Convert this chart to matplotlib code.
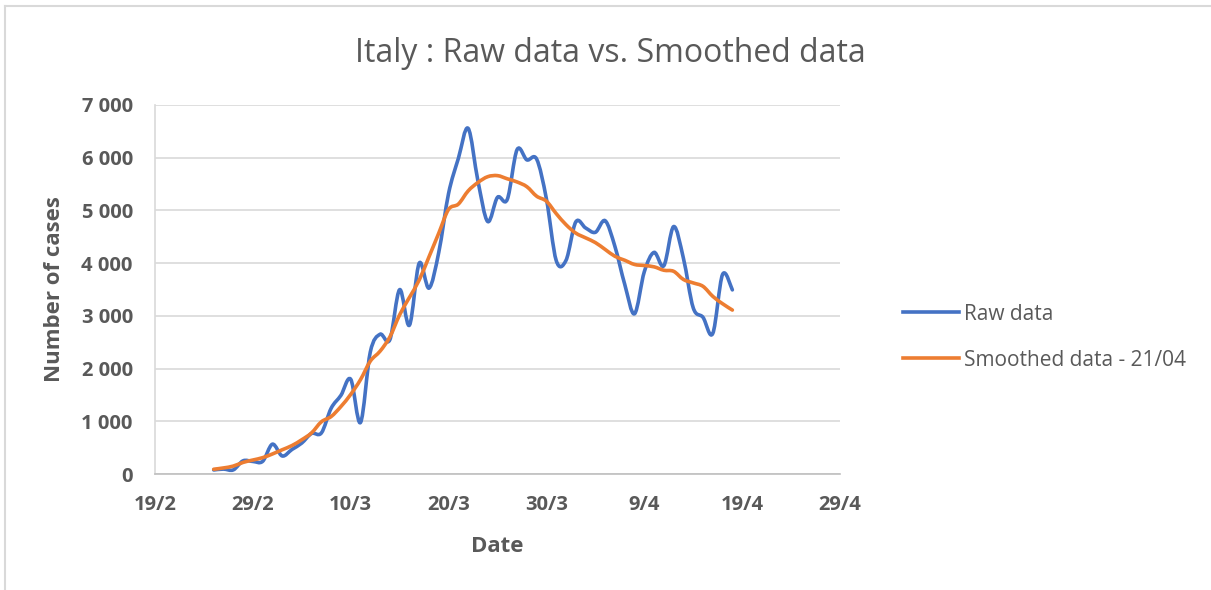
import numpy as np
import pandas as pd
import matplotlib
matplotlib.use("Agg")
import matplotlib.pyplot as plt
import matplotlib.dates as mdates
from matplotlib.path import Path
from matplotlib.patches import PathPatch
from matplotlib.lines import Line2D
from matplotlib.ticker import FuncFormatter

# ── Data ─────────────────────────────────────────────
FIRST_DAY = "2020-02-25"   # one value per day from here on

raw_cases = [77, 93, 78, 250, 238, 240, 566, 342, 466, 587,
             769, 778, 1247, 1492, 1797, 977, 2313, 2651, 2547, 3497,
             2823, 4000, 3526, 4207, 5322, 5986, 6557, 5560, 4789, 5249,
             5210, 6153, 5959, 5974, 5217, 4050, 4053, 4782, 4668, 4585,
             4805, 4316, 3599, 3039, 3836, 4204, 3951, 4694, 4092, 3153,
             2972, 2667, 3786, 3493]

smoothed_cases = [90, 115, 150, 220, 265, 310, 380, 460, 540, 650,
                  780, 990, 1090, 1280, 1510, 1790, 2140, 2330, 2600, 3020,
                  3350, 3680, 4120, 4570, 5020, 5120, 5370, 5530, 5640, 5660,
                  5600, 5540, 5450, 5270, 5175, 4940, 4730, 4570, 4480, 4390,
                  4260, 4130, 4055, 3975, 3955, 3930, 3865, 3845, 3690, 3625,
                  3560, 3370, 3230, 3110]

x_ticks = ["2020-02-19", "2020-02-29", "2020-03-10", "2020-03-20",
           "2020-03-30", "2020-04-09", "2020-04-19", "2020-04-29"]
y_ticks = [0, 1000, 2000, 3000, 4000, 5000, 6000, 7000]

series_labels = ["Raw data", "Smoothed data - 21/04"]

# ── Style ────────────────────────────────────────────
BLUE = "#4472C4"
ORANGE = "#ED7D31"
TEXT = "#595959"
GRID = "#D9D9D9"
FONT = ["Open Sans", "DejaVu Sans"]
plt.rcParams["font.family"] = FONT

W, H = 1211, 590


def smooth_path(x, y):
    # Excel-style smoothed line: cubic Bezier between consecutive points
    pts = np.column_stack([x, y])
    n = len(pts)
    verts, codes = [pts[0]], [Path.MOVETO]
    for i in range(n - 1):
        p0 = pts[max(i - 1, 0)]
        p1 = pts[i]
        p2 = pts[i + 1]
        p3 = pts[min(i + 2, n - 1)]
        verts += [p1 + (p2 - p0) / 6, p2 - (p3 - p1) / 6, p2]
        codes += [Path.CURVE4] * 3
    return Path(verts, codes)


dates = pd.date_range(FIRST_DAY, periods=len(raw_cases), freq="D")
xnum = mdates.date2num(dates)

fig = plt.figure(figsize=(W / 100, H / 100), dpi=100)
ax = fig.add_axes([155 / W, (H - 474) / H, (840 - 155) / W, (474 - 105) / H])

for vals, col in [(raw_cases, BLUE), (smoothed_cases, ORANGE)]:
    ax.add_patch(PathPatch(smooth_path(xnum, np.array(vals, float)),
                           fill=False, edgecolor=col, lw=2.6,
                           capstyle="round", joinstyle="round", zorder=3))

ax.set_xlim(mdates.date2num(pd.Timestamp(x_ticks[0])),
            mdates.date2num(pd.Timestamp(x_ticks[-1])))
ax.set_ylim(0, 7000)
ax.set_xticks(mdates.date2num(pd.to_datetime(x_ticks)))
ax.xaxis.set_major_formatter(FuncFormatter(
    lambda v, p: f"{mdates.num2date(v).day}/{mdates.num2date(v).month}"))
ax.set_yticks(y_ticks)
ax.yaxis.set_major_formatter(FuncFormatter(lambda v, p: f"{int(v):,}".replace(",", " ")))

ax.grid(axis="y", color=GRID, lw=1.2)
ax.set_axisbelow(True)
for s in ["top", "right"]:
    ax.spines[s].set_visible(False)
ax.spines["left"].set_color(GRID)
ax.spines["bottom"].set_color("#BFBFBF")
ax.spines["left"].set_linewidth(1.2)
ax.spines["bottom"].set_linewidth(1.2)
ax.tick_params(length=0, labelsize=14.5, labelcolor=TEXT)
ax.tick_params(axis="y", pad=16)
ax.tick_params(axis="x", pad=15)
for lab in ax.get_xticklabels() + ax.get_yticklabels():
    lab.set_fontweight("bold")

# ── Texts ────────────────────────────────────────────
fig.text(610 / W, (H - 62) / H, "Italy : Raw data vs. Smoothed data",
         ha="center", va="baseline", fontsize=23, color=TEXT)
fig.text(497 / W, (H - 552) / H, "Date", ha="center", va="baseline",
         fontsize=16, fontweight="bold", color=TEXT)
fig.text(55 / W, (H - 289) / H, "Number of cases", ha="center", va="center",
         rotation=90, fontsize=16, fontweight="bold", color=TEXT)

handles = [Line2D([], [], color=BLUE, lw=2.6), Line2D([], [], color=ORANGE, lw=2.6)]
fig.legend(handles, series_labels, loc="center left",
           bbox_to_anchor=(884 / W, (H - 337) / H), frameon=False,
           fontsize=15, labelcolor=TEXT, handlelength=2.7,
           handletextpad=0.25, labelspacing=1.2)

# chart border
fig.add_artist(Line2D([5 / W, 1], [(H - 6) / H] * 2, color=GRID, lw=1.5))
fig.add_artist(Line2D([5 / W] * 2, [0, (H - 6) / H], color=GRID, lw=1.5))

plt.savefig("out.png", dpi=100)
